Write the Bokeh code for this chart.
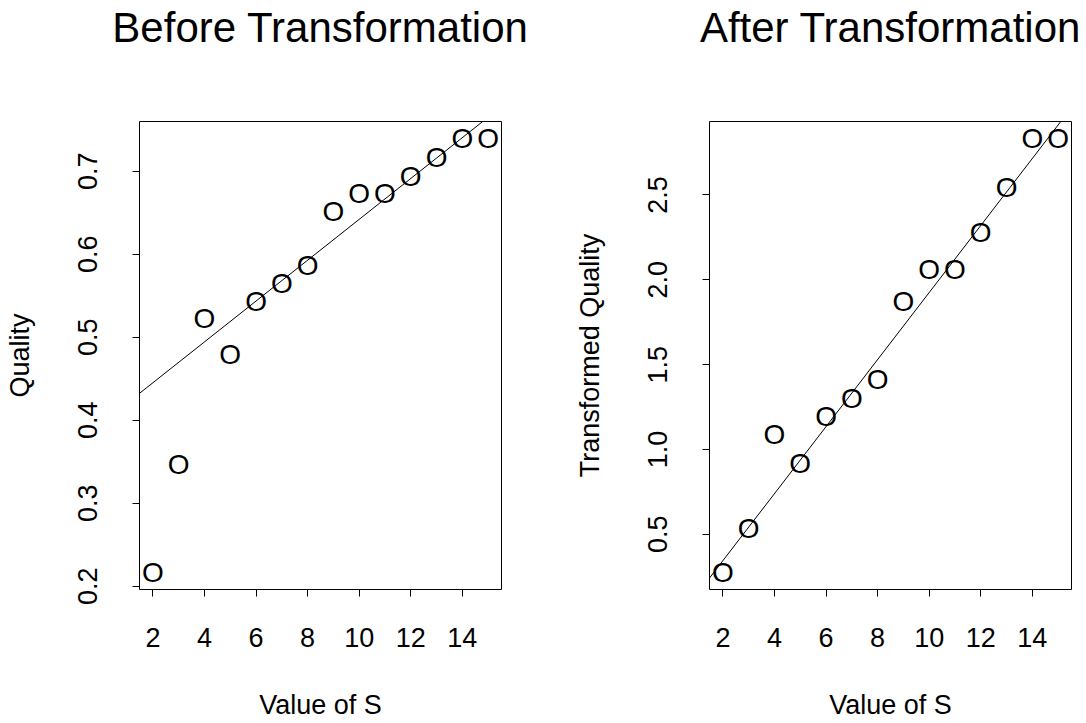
from bokeh.plotting import figure
from bokeh.models import Range1d, LinearAxis, FixedTicker, PrintfTickFormatter, Title
from bokeh.layouts import row
from bokeh.embed import file_html
from bokeh.resources import INLINE
from bokeh.core.properties import value

# ---- data ----
S = [2, 3, 4, 5, 6, 7, 8, 9, 10, 11, 12, 13, 14, 15]
quality = [0.217, 0.347, 0.522, 0.479, 0.543, 0.565, 0.587, 0.652,
           0.673, 0.673, 0.694, 0.717, 0.739, 0.739]
transformed_quality = [0.277, 0.532, 1.087, 0.915, 1.193, 1.298, 1.414, 1.873,
                       2.062, 2.062, 2.279, 2.542, 2.831, 2.831]
x_ticks = [2, 4, 6, 8, 10, 12, 14]
quality_ticks = [0.2, 0.3, 0.4, 0.5, 0.6, 0.7]
transformed_ticks = [0.5, 1.0, 1.5, 2.0, 2.5]
fit_before_intercept, fit_before_slope = 0.396, 0.0246
fit_after_intercept, fit_after_slope = -0.05, 0.1975

FONT = "Liberation Sans"
FIG_W = 543
FIG_H = 723
FRAME_W = 362
FRAME_H = 468
TOP = 121


def padded(vals):
    lo, hi = min(vals), max(vals)
    d = 0.04 * (hi - lo)
    return lo - d, hi + d


def panel(title, ylab, y, yticks, intercept, slope, left):
    x0, x1 = padded(S)
    y0, y1 = padded(y)
    p = figure(width=FIG_W, height=FIG_H, x_range=Range1d(x0, x1), y_range=Range1d(y0, y1),
               output_backend="svg", toolbar_location=None, title=None,
               x_axis_location=None, y_axis_location=None,
               min_border_left=left, min_border_right=FIG_W - left - FRAME_W,
               min_border_top=TOP, min_border_bottom=FIG_H - TOP - FRAME_H)
    p.grid.grid_line_color = None
    p.background_fill_color = "white"
    p.border_fill_color = "white"
    p.outline_line_color = "black"
    p.outline_line_width = 1
    p.outline_line_alpha = 1

    common = dict(axis_line_color="black", axis_line_width=1,
                  major_tick_line_color="black", major_tick_out=7, major_tick_in=0,
                  minor_tick_line_color=None,
                  major_label_text_font=FONT, major_label_text_font_size="27px",
                  major_label_text_color="black",
                  axis_label_text_font=FONT, axis_label_text_font_size="27px",
                  axis_label_text_color="black", axis_label_text_font_style="normal")
    xa = LinearAxis(ticker=FixedTicker(ticks=x_ticks), bounds=(x_ticks[0], x_ticks[-1]),
                    axis_label="Value of S", axis_label_standoff=40,
                    major_label_standoff=31, **common)
    p.add_layout(xa, "below")
    ya = LinearAxis(ticker=FixedTicker(ticks=yticks), bounds=(yticks[0], yticks[-1]),
                    formatter=PrintfTickFormatter(format="%.1f"),
                    major_label_orientation="vertical",
                    axis_label=ylab, axis_label_standoff=41,
                    major_label_standoff=35, **common)
    p.add_layout(ya, "left")

    # invisible spacer between the frame and the title, then the title itself
    spacer = Title(text=" ", text_font=FONT, text_font_size="2px", standoff=67)
    p.add_layout(spacer, "above")
    t = Title(text=title, align="center", text_font=FONT, text_font_size="42px",
              text_font_style="normal", text_color="black", standoff=0)
    p.add_layout(t, "above")

    # fitted line across the plotting range
    xs = [x0, x1]
    p.line(xs, [intercept + slope * v for v in xs], line_color="black", line_width=1)

    # points drawn as the character "O"
    p.text(x=S, y=y, text=value("O"), text_font=value(FONT), text_font_size=value("28px"),
           text_color="black", text_align="center", text_baseline="alphabetic", y_offset=0)
    return p


p1 = panel("Before Transformation", "Quality", quality, quality_ticks,
           fit_before_intercept, fit_before_slope, 139)
p2 = panel("After Transformation", "Transformed Quality", transformed_quality, transformed_ticks,
           fit_after_intercept, fit_after_slope, 166)

layout = row(p1, p2)
open("out.html", "w").write(file_html(layout, INLINE))
